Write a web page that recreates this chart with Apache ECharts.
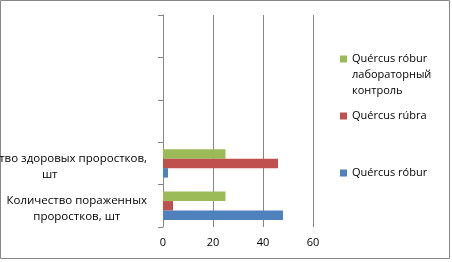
<!DOCTYPE html>
<html><head><meta charset="utf-8">
<script src="https://cdn.jsdelivr.net/npm/echarts@6/dist/echarts.min.js"></script>
<style>html,body{margin:0;padding:0;background:#fff}#c{width:452px;height:262px}</style>
</head><body><div id="c"></div>
<script>
const categories = ['Количество пораженных\nпроростков, шт', 'Количество здоровых проростков,\nшт', ' ', '  ', '   '];
const seriesNames = ['Quércus róbur', 'Quércus rúbra', 'Quércus róbur лабораторный контроль'];
const roburValues = [48, 2];
const rubraValues = [4, 46];
const controlValues = [25, 25];
const valueTicks = [0, 20, 40, 60];
const legendLabels = ['Quércus róbur', 'Quércus rúbra', 'Quércus róbur\nлабораторный\nконтроль'];

const colors = ['#4F81BD', '#C0504D', '#9BBB59'];
const font = 'Open Sans';
const chart = echarts.init(document.getElementById('c'), null, {renderer: 'canvas'});
const legendTops = [165, 108, 51];
const legends = seriesNames.map((n, i) => ({
  data: [n], left: 340, top: legendTops[i], orient: 'vertical', padding: 0,
  itemWidth: 7, itemHeight: i === 2 ? 48 : 7,
  icon: i === 2 ? 'path://M0,0M0,4.5h7v7h-7ZM0,48' : 'rect',
  selectedMode: false,
  formatter: () => legendLabels[i],
  textStyle: {fontFamily: font, fontSize: 11, color: '#000', lineHeight: 16}
}));
const seriesValues = [roburValues, rubraValues, controlValues];
const order = [2, 1, 0];
chart.setOption({
  animation: false,
  grid: {left: 163, right: 139, top: 15, bottom: 35, containLabel: false, outerBoundsMode: 'none'},
  xAxis: {
    type: 'value', min: 0, max: 60, interval: 20,
    axisLine: {show: false}, axisTick: {show: false},
    splitLine: {lineStyle: {color: '#868686', width: 1}},
    axisLabel: {fontFamily: font, fontSize: 11, color: '#000', margin: 10,
      formatter: v => valueTicks.includes(v) ? String(v) : ''}
  },
  yAxis: {
    type: 'category', data: categories,
    axisLine: {show: true, lineStyle: {color: '#868686'}},
    axisTick: {show: true, length: 5, lineStyle: {color: '#868686'}},
    axisLabel: {interval: 0, margin: 16, color: '#000', fontFamily: font, fontSize: 11,
      padding: [6, 0, 0, 0],
      formatter: v => v.trim() === '' ? '' : v.split('\n').map(l => '{c|' + l + '}').join('\n'),
      rich: {c: {align: 'center', fontFamily: font, fontSize: 11.5, color: '#000', lineHeight: 16}}
    }
  },
  legend: legends,
  series: order.map(i => ({
    name: seriesNames[i], type: 'bar', data: seriesValues[i],
    itemStyle: {color: colors[i]}, barGap: '0%', barCategoryGap: '33%'
  })),
  graphic: [{type: 'rect', shape: {x: 0.5, y: 0.5, width: 449, height: 258},
    style: {fill: 'none', stroke: '#868686', lineWidth: 1}, silent: true}]
});
</script></body></html>
